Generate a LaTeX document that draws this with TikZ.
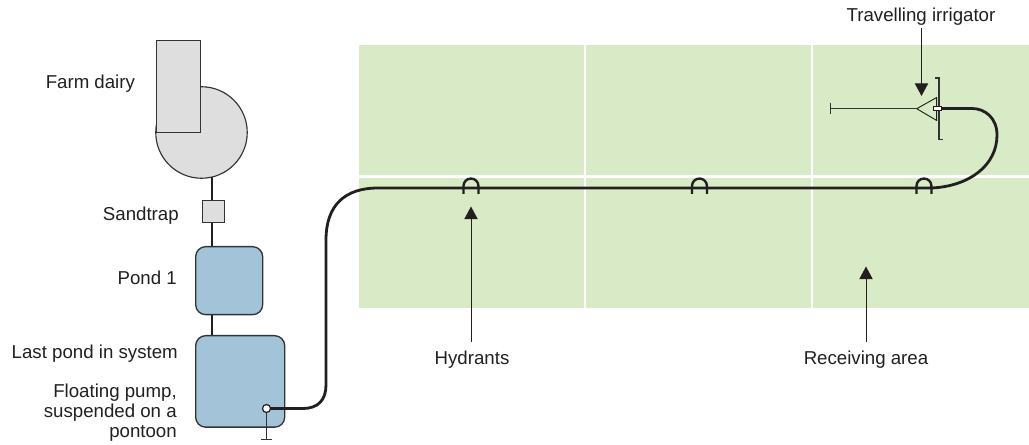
\documentclass[tikz,border=0pt]{standalone}
\usepackage{fontspec}
\setmainfont{Liberation Sans}
\usetikzlibrary{arrows.meta}
\definecolor{fieldc}{HTML}{D8EBC6}
\definecolor{pondc}{HTML}{A3C3D9}
\definecolor{greyc}{HTML}{DEDEDE}
\definecolor{inkc}{HTML}{231F20}
\definecolor{edgec}{HTML}{333333}
\tikzset{
  x=0.75pt,y=-0.75pt,
  lab/.style={font=\fontsize{14}{15}\selectfont,text=inkc,inner sep=0pt},
  labr/.style={lab,anchor=east,align=right},
  fieldbox/.style={fill=fieldc,draw=none,anchor=north west,inner sep=0pt,minimum width=#1*0.75pt,minimum height=130*0.75pt},
  pond/.style={draw=edgec,line width=1pt,fill=pondc,rounded corners=7.5pt,inner sep=0pt,anchor=north west},
  grey/.style={draw=edgec,line width=0.85pt,fill=greyc,inner sep=0pt,anchor=north west},
  link/.style={draw=inkc,line width=1.3pt},
  pipe/.style={draw=inkc,line width=2.1pt},
  thin line/.style={draw=edgec,line width=0.7pt},
  callout/.style={draw=inkc,line width=0.75pt,-{Triangle[length=9.5pt,width=10pt]}},
  hyd/.style={draw=inkc,line width=1.8pt},
}
\newcommand{\hydrant}[1]{%
  \draw[hyd] (#1-7.5,194) -- (#1-7.5,186) arc[start angle=180,end angle=0,radius=5.6pt] -- (#1+7.5,194);}
\begin{document}
\begin{tikzpicture}
\useasboundingbox (0,0) rectangle (1029,445);
% fields
\node[fieldbox=224.5] (f1) at (359,45) {};
\node[fieldbox=224.5] (f2) at (586,45) {};
\node[fieldbox=216] (f3) at (813,45) {};
\node[fieldbox=224.5] (f4) at (359,177.5) {};
\node[fieldbox=224.5] (f5) at (586,177.5) {};
\node[fieldbox=216] (f6) at (813,177.5) {};
% connectors on the left
\coordinate (circbot) at (212,177);
\coordinate (traptop) at (212,200);
\coordinate (trapbot) at (212,222);
\coordinate (p1top) at (212,246);
\coordinate (p1bot) at (212,314);
\coordinate (p2top) at (212,335);
\draw[link] (circbot) -- (traptop);
\draw[link] (trapbot) -- (p1top);
\draw[link] (p1bot) -- (p2top);
% dairy
\node[grey,circle,anchor=center,minimum size=91.5*0.75pt] (yard) at (201.5,132.5) {};
\node[grey,minimum width=44.5*0.75pt,minimum height=92*0.75pt] (dairy) at (155.7,40) {};
\node[grey,minimum width=22*0.75pt,minimum height=22*0.75pt] (trap) at (201.5,200) {};
\node[pond,minimum width=67*0.75pt,minimum height=68*0.75pt] (pond1) at (195,246) {};
\node[pond,minimum width=89*0.75pt,minimum height=91.5*0.75pt] (pond2) at (195,335) {};
% pump
\coordinate (pumpfoot) at (266.5,439.5);
\coordinate (pumpc) at (266.5,408.5);
\draw[thin line,line width=0.9pt] (pumpc) -- (pumpfoot);
\draw[thin line,line width=0.9pt] (261,439.5) -- (272,439.5);
% pipe
\coordinate (pipeend) at (941,108.5);
\draw[pipe] (pumpc) -- (303,408.5)
  .. controls (318,408.5) and (326,400) .. (326,385)
  -- (326,240)
  .. controls (326,205) and (345,188) .. (378,188)
  -- (932,188)
  .. controls (970,186) and (997,165) .. (997,135)
  .. controls (997,118) and (985,108.5) .. (972,108.5)
  -- (pipeend);
\node[circle,draw=inkc,fill=white,line width=0.9pt,inner sep=0pt,minimum size=8*0.75pt] (pump) at (pumpc) {};
% hydrants
\hydrant{471}
\hydrant{699.5}
\hydrant{924}
% irrigator
\coordinate (boomend) at (830.5,108.7);
\node[draw=none,inner sep=0pt,minimum size=0pt] (apex) at (916.7,108.7) {};
\draw[thin line] (boomend) -- (apex);
\draw[thin line] (830.5,103) -- (830.5,114.5);
\draw[draw=inkc,line width=0.7pt,fill=fieldc] (apex.center) -- (936.7,97.5) -- (936.7,120.5) -- cycle;
\draw[thin line,line width=0.85pt] (935,78) -- (939,78) -- (939,139.5) -- (943,139.5);
\node[draw=inkc,fill=white,line width=0.7pt,inner sep=0pt,minimum width=8.5*0.75pt,minimum height=4.5*0.75pt] (coupler) at (937.5,108.7) {};
% labels
\node[lab,anchor=west] (tdairy) at (45.5,83.5) {Farm dairy};
\node[labr] (ttrap) at (179,216) {Sandtrap};
\node[labr] (tp1) at (177,277.5) {Pond 1};
\node[labr] (tp2) at (178,354) {Last pond in system};
\node[labr] (tpump) at (177,413) {Floating pump,\\suspended on a\\pontoon};
\node[lab] (ttrav) at (921,17) {Travelling irrigator};
\node[lab] (thyd) at (472,360) {Hydrants};
\node[lab] (trec) at (866,360) {Receiving area};
% callouts
\draw[callout] (921.5,28) -- (921.5,96);
\draw[callout] (471,342) -- (471,206.5);
\draw[callout] (866,342) -- (866,266.5);
\end{tikzpicture}
\end{document}
